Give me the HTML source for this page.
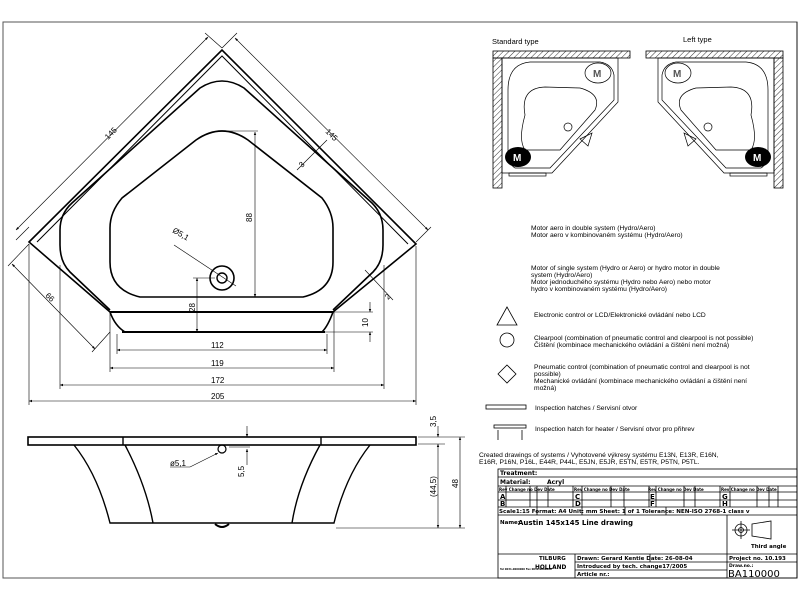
<!DOCTYPE html>
<html><head><meta charset="utf-8"><style>
html,body{margin:0;padding:0;background:#fff;}
svg{display:block;font-family:"Liberation Sans",sans-serif;}
</style></head><body>
<svg width="800" height="600" viewBox="0 0 800 600" xmlns="http://www.w3.org/2000/svg">
<defs>
<marker id="a" viewBox="0 0 10 10" refX="10" refY="5" markerWidth="5" markerHeight="5" orient="auto-start-reverse"><path d="M0,1 L10,5 L0,9 z" fill="#000"/></marker>
<pattern id="h" width="4" height="4" patternUnits="userSpaceOnUse" patternTransform="rotate(45)"><line x1="0" y1="0" x2="0" y2="4" stroke="#000" stroke-width="0.8"/></pattern>
</defs>
<rect x="3" y="22" width="794" height="556" fill="none" stroke="#555" stroke-width="1"/>

<!-- plan view -->
<g fill="none" stroke="#000">
<path d="M29,242 L222,50 L416,244 L333,312 Q328,326 322,332 L125,332 Q115,326 110,312 Z" stroke-width="1.6"/>
<path d="M37,242 L222,56 L408,244" stroke-width="1"/>
<line x1="110" y1="312" x2="333" y2="312" stroke-width="2"/>
<line x1="122" y1="332" x2="325" y2="332" stroke-width="2"/>
<path d="M110,310 L70,272 Q60,262 60,245 L60,230 Q60,214 72,203 L200,88 Q222,74 244,88 L372,203 Q383,214 383,230 L383,245 Q383,262 373,272 L333,310" stroke-width="1.6"/>
<path d="M140,297 Q110,290 110,262 L110,228 Q110,212 122,198 L196,140 Q222,122 248,140 L322,198 Q333,212 333,228 L333,262 Q333,290 303,297 Z" stroke-width="1.6"/>
<circle cx="222" cy="278" r="12" stroke-width="1.6"/>
<circle cx="222" cy="278" r="5" stroke-width="1.4"/>
</g>
<g stroke="#000" stroke-width="0.6" fill="none">
<line x1="16" y1="230" x2="208" y2="37" marker-start="url(#a)" marker-end="url(#a)"/>
<line x1="235" y1="38" x2="428" y2="230" marker-start="url(#a)" marker-end="url(#a)"/>
<line x1="12" y1="264" x2="95" y2="349" marker-start="url(#a)" marker-end="url(#a)"/>
<line x1="29" y1="227" x2="16" y2="240"/><line x1="222" y1="48" x2="205" y2="33"/>
<line x1="222" y1="48" x2="237" y2="33"/><line x1="416" y1="242" x2="431" y2="227"/>
<line x1="29" y1="244" x2="8" y2="266"/><line x1="110" y1="332" x2="92" y2="352"/>
<line x1="117" y1="350" x2="327" y2="350" marker-start="url(#a)" marker-end="url(#a)"/>
<line x1="110" y1="368" x2="334" y2="368" marker-start="url(#a)" marker-end="url(#a)"/>
<line x1="60" y1="385" x2="384" y2="385" marker-start="url(#a)" marker-end="url(#a)"/>
<line x1="29" y1="401" x2="416" y2="401" marker-start="url(#a)" marker-end="url(#a)"/>
<line x1="117" y1="334" x2="117" y2="354"/><line x1="327" y1="334" x2="327" y2="354"/>
<line x1="110" y1="312" x2="110" y2="372"/><line x1="334" y1="312" x2="334" y2="372"/>
<line x1="60" y1="265" x2="60" y2="389"/><line x1="384" y1="265" x2="384" y2="389"/>
<line x1="29" y1="244" x2="29" y2="405"/><line x1="416" y1="246" x2="416" y2="405"/>
<line x1="255" y1="132" x2="255" y2="297" marker-start="url(#a)" marker-end="url(#a)"/>
<line x1="226" y1="131" x2="258" y2="131"/>
<line x1="197" y1="278" x2="197" y2="332" marker-start="url(#a)" marker-end="url(#a)"/>
<line x1="193" y1="278" x2="215" y2="278"/>
<line x1="370" y1="302" x2="370" y2="312" marker-end="url(#a)"/>
<line x1="370" y1="342" x2="370" y2="332" marker-end="url(#a)"/>
<line x1="333" y1="312" x2="373" y2="312"/><line x1="325" y1="332" x2="373" y2="332"/>
<line x1="174" y1="245" x2="236" y2="286"/>
<line x1="297" y1="170" x2="327" y2="140"/>
<line x1="365" y1="270" x2="393" y2="300"/>
</g>
<g font-size="8" fill="#000">
<text x="108" y="140" transform="rotate(-45 108 140)">145</text>
<text x="325" y="132" transform="rotate(45 325 132)">145</text>
<text x="45" y="296" transform="rotate(45 45 296)">66</text>
<text x="302" y="168" transform="rotate(-45 302 168)">3</text>
<text x="388" y="300" transform="rotate(-45 388 300)">2</text>
<text x="172" y="232" transform="rotate(30 172 232)">Ø5,1</text>
<text x="252" y="222" transform="rotate(-90 252 222)">88</text>
<text x="195" y="312" transform="rotate(-90 195 312)">28</text>
<text x="368" y="327" transform="rotate(-90 368 327)">10</text>
<text x="211" y="348">112</text><text x="211" y="366">119</text>
<text x="211" y="383">172</text><text x="211" y="399">205</text>
</g>

<!-- side view -->
<g fill="none" stroke="#000">
<rect x="28" y="437" width="388" height="8" stroke-width="1.6"/>
<line x1="123" y1="437" x2="123" y2="445" stroke-width="1.4"/><line x1="321" y1="437" x2="321" y2="445" stroke-width="1.4"/>
<path d="M74,445 Q98,475 110,523 L334,523 Q346,475 370,445" stroke-width="1.4"/>
<path d="M125,445 Q146,485 153,523" stroke-width="1.4"/>
<path d="M320,445 Q298,485 292,523" stroke-width="1.4"/>
<path d="M215,524 Q222,530 229,524" stroke-width="2"/>
<circle cx="222" cy="449" r="4" stroke-width="1.2"/>
</g>
<g stroke="#000" stroke-width="0.6" fill="none">
<line x1="247" y1="426" x2="247" y2="437" marker-end="url(#a)"/>
<line x1="247" y1="465" x2="247" y2="449" marker-end="url(#a)"/>
<line x1="229" y1="447" x2="250" y2="447"/>
<line x1="190" y1="467" x2="218" y2="453" marker-end="url(#a)"/>
<line x1="170" y1="467" x2="190" y2="467"/>
<line x1="418" y1="437" x2="465" y2="437"/><line x1="418" y1="444" x2="445" y2="444"/>
<line x1="336" y1="528" x2="465" y2="528"/>
<line x1="438" y1="426" x2="438" y2="437" marker-end="url(#a)"/>
<line x1="438" y1="444" x2="438" y2="528" marker-start="url(#a)" marker-end="url(#a)"/>
<line x1="460" y1="437" x2="460" y2="528" marker-start="url(#a)" marker-end="url(#a)"/>
</g>
<g font-size="8" fill="#000">
<text x="170" y="466">ø5,1</text>
<text x="244" y="477" transform="rotate(-90 244 477)">5,5</text>
<text x="436" y="427" transform="rotate(-90 436 427)">3,5</text>
<text x="436" y="497" transform="rotate(-90 436 497)">(44,5)</text>
<text x="458" y="488" transform="rotate(-90 458 488)">48</text>
</g>

<!-- installation types -->
<g font-size="7.5" fill="#000"><text x="492" y="44">Standard type</text><text x="683" y="42">Left type</text></g>
<g stroke="#000" stroke-width="0.8">
<rect x="493" y="51" width="137" height="7" fill="url(#h)"/>
<rect x="493" y="58" width="9" height="130" fill="url(#h)"/>
<rect x="646" y="51" width="137" height="7" fill="url(#h)"/>
<rect x="774" y="58" width="9" height="130" fill="url(#h)"/>
</g>
<g fill="none" stroke="#000" stroke-width="0.7">
<path d="M502,58 L618,58 L618,102 L552,173 L502,173 Z"/>
<path d="M508,90 Q508,64 530,62 L600,62 Q612,64 614,75 L614,100 L550,168 L515,168 Q508,164 508,150 Z"/>
<path d="M525,115 Q520,88 545,87 L580,88 Q602,94 595,110 L560,150 L525,150 Q518,140 525,115Z"/>
<path d="M774,58 L658,58 L658,102 L724,173 L774,173 Z"/>
<path d="M768,90 Q768,64 746,62 L676,62 Q664,64 662,75 L662,100 L726,168 L761,168 Q768,164 768,150 Z"/>
<path d="M751,115 Q756,88 731,87 L696,88 Q674,94 681,110 L716,150 L751,150 Q758,140 751,115Z"/>
<circle cx="568" cy="127" r="4"/><circle cx="708" cy="127" r="4"/>
<ellipse cx="598" cy="73" rx="13" ry="10"/><ellipse cx="678" cy="73" rx="13" ry="10"/>
<path d="M580,139 L592,133 L588,146 Z"/><path d="M696,139 L684,133 L688,146 Z"/>
<rect x="509" y="173" width="37" height="3"/><rect x="730" y="173" width="37" height="3"/>
</g>
<ellipse cx="518" cy="157" rx="13" ry="10" fill="#000"/>
<ellipse cx="758" cy="157" rx="13" ry="10" fill="#000"/>
<g font-size="10" font-weight="bold"><text x="513" y="161" fill="#fff">M</text><text x="753" y="161" fill="#fff">M</text><text x="593" y="77" fill="#555">M</text><text x="673" y="77" fill="#555">M</text></g>

<!-- legend -->
<g font-size="6.7" fill="#000" transform="translate(531,0)">
<text x="0" y="230">Motor aero in double system (Hydro/Aero)</text>
<text x="0" y="237">Motor aero v kombinovaném systému (Hydro/Aero)</text>
<text x="0" y="270">Motor of single system (Hydro or Aero) or hydro motor in double</text>
<text x="0" y="277">system (Hydro/Aero)</text>
<text x="0" y="284">Motor jednoduchého systému (Hydro nebo Aero) nebo motor</text>
<text x="0" y="291">hydro v kombinovaném systému (Hydro/Aero)</text>
<text x="3" y="317">Electronic control or LCD/Elektronické ovládání nebo LCD</text>
<text x="3" y="340">Clearpool (combination of pneumatic control and clearpool is not possible)</text>
<text x="3" y="347">Čištění (kombinace mechanického ovládání a čištění není možná)</text>
<text x="3" y="369">Pneumatic control (combination of pneumatic control and clearpool is not</text>
<text x="3" y="376">possible)</text>
<text x="3" y="383">Mechanické ovládání (kombinace mechanického ovládání a čištění není</text>
<text x="3" y="390">možná)</text>
<text x="4" y="410">Inspection hatches / Servisní otvor</text>
<text x="4" y="431">Inspection hatch for heater / Servisní otvor pro přihrev</text>
<text x="-52" y="457">Created drawings of systems / Vyhotovené výkresy systému E13N, E13R, E16N,</text>
<text x="-52" y="464">E16R, P16N, P16L, E44R, P44L, E5JN, E5JR, E5TN, E5TR, P5TN, P5TL.</text>
</g>
<g fill="none" stroke="#000" stroke-width="0.8">
<path d="M507,307 L497,325 L517,325 Z"/>
<circle cx="507" cy="340" r="7"/>
<path d="M507,365 L516,374 L507,383 L498,374 Z"/>
<rect x="486" y="405" width="40" height="4"/>
<rect x="494" y="425" width="32" height="3"/>
<line x1="498" y1="430" x2="498" y2="440"/><line x1="522" y1="430" x2="522" y2="440"/>
</g>

<!-- title block -->
<g fill="none" stroke="#000" stroke-width="0.8">
<line x1="797" y1="22" x2="797" y2="578"/>
<rect x="498" y="469" width="299" height="109"/>
<line x1="498" y1="477" x2="797" y2="477"/>
<line x1="498" y1="486" x2="797" y2="486"/>
<line x1="498" y1="492" x2="797" y2="492"/>
<line x1="498" y1="500" x2="797" y2="500"/>
<line x1="498" y1="507" x2="797" y2="507"/>
<line x1="498" y1="515" x2="797" y2="515"/>
<line x1="498" y1="554" x2="797" y2="554"/>
<line x1="575" y1="554" x2="575" y2="578"/>
<line x1="727" y1="515" x2="727" y2="578"/>
<line x1="575" y1="562" x2="727" y2="562"/><line x1="575" y1="570" x2="727" y2="570"/>
<line x1="727" y1="562" x2="797" y2="562"/>
<line x1="650" y1="554" x2="650" y2="562"/>
<path d="M506,486V507M530,486V507M537,486V507M548,486V507M573,486V507M582,486V507M611,486V507M624,486V507M649,486V507M656,486V507M684,486V507M695,486V507M720,486V507M730,486V507M757,486V507M769,486V507M778,486V507"/>
<path d="M537,507V515M582,507V515M625,507V515M666,507V515"/>
<circle cx="741" cy="530" r="6"/><circle cx="741" cy="530" r="2.5"/>
<path d="M732,530H750M741,521V539M752,524L771,521L771,539L752,536Z"/>
</g>
<g font-family="'DejaVu Sans',sans-serif" font-weight="bold" font-size="6" fill="#000">
<text x="500" y="475">Treatment:</text>
<text x="500" y="484">Material:</text><text x="547" y="484">Acryl</text>
<text x="499" y="491" font-size="4">Rev Change no Dev Date</text>
<text x="574" y="491" font-size="4">Rev Change no Dev Date</text>
<text x="648" y="491" font-size="4">Rev Change no Dev Date</text>
<text x="721" y="491" font-size="4">Rev Change no Dev Date</text>
<text x="500" y="499" font-size="7">A</text><text x="575" y="499" font-size="7">C</text><text x="650" y="499" font-size="7">E</text><text x="722" y="499" font-size="7">G</text>
<text x="500" y="506" font-size="7">B</text><text x="575" y="506" font-size="7">D</text><text x="650" y="506" font-size="7">F</text><text x="722" y="506" font-size="7">H</text>
<text x="499" y="513" font-size="5.6">Scale1:15  Format: A4  Unit: mm  Sheet: 1  of 1  Tolerance: NEN-ISO 2768-1 class v</text>
<text x="500" y="524" font-size="5.5">Name:</text>
<text x="518" y="525" font-size="7">Austin 145x145  Line drawing</text>
<text x="751" y="548" font-size="5.5">Third angle</text>
<text x="539" y="560" font-size="5.5">TILBURG</text>
<text x="535" y="569" font-size="5.8">HOLLAND</text>
<text x="577" y="560" font-size="5.5">Drawn: Gerard Kentie   Date: 26-08-04</text>
<text x="577" y="568" font-size="5.5">Introduced by tech. change17/2005</text>
<text x="577" y="576" font-size="5.5">Article nr.:</text>
<text x="729" y="560" font-size="5.5">Project no. 10.193</text>
<text x="729" y="567" font-size="4.5">Draw.no.:</text>
<text x="728" y="577" font-size="10" font-weight="normal">BA110000</text>
<text x="500" y="570" font-size="2.5">Tel 0031-0000000  Fax 0031-0000000</text>
</g>
</svg>
</body></html>
